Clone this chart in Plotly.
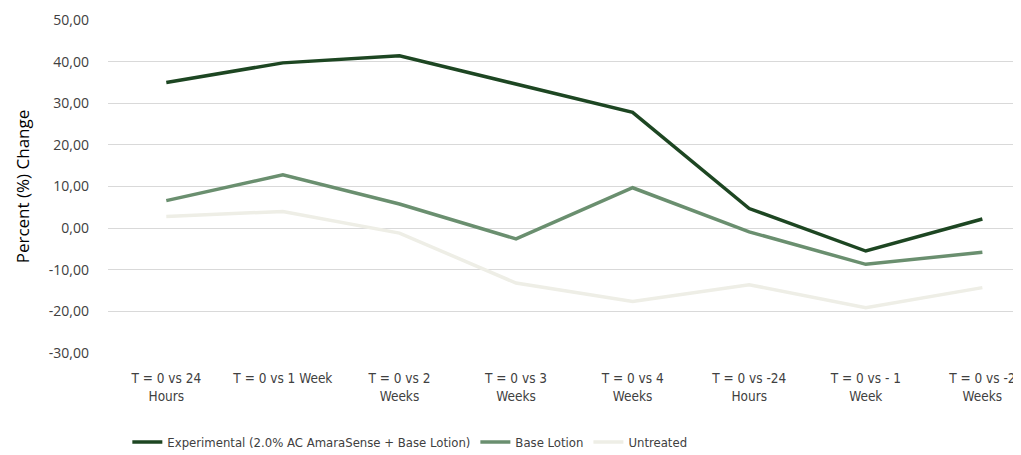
import plotly.graph_objects as go

categories = ["T = 0 vs 24<br>Hours", "T = 0 vs 1 Week", "T = 0 vs 2<br>Weeks", "T = 0 vs 3<br>Weeks",
              "T = 0 vs 4<br>Weeks", "T = 0 vs -24<br>Hours", "T = 0 vs - 1<br>Week", "T = 0 vs -2<br>Weeks"]
experimental = [35.0, 39.7, 41.4, 34.6, 27.8, 4.7, -5.5, 2.2]
base_lotion = [6.6, 12.8, 5.8, -2.6, 9.7, -0.9, -8.7, -5.8]
untreated = [2.8, 4.0, -1.2, -13.2, -17.6, -13.6, -19.1, -14.3]
y_ticks = [-30, -20, -10, 0, 10, 20, 30, 40, 50]
y_tick_labels = ["-30,00", "-20,00", "-10,00", "0,00", "10,00", "20,00", "30,00", "40,00", "50,00"]

series = [
    ("Experimental (2.0% AC AmaraSense + Base Lotion)", experimental, "#1D4622"),
    ("Base Lotion", base_lotion, "#6A8F6F"),
    ("Untreated", untreated, "#EEEEE6"),
]

narrow = "DejaVu Sans Condensed, Liberation Sans Narrow, Roboto, sans-serif"

fig = go.Figure()
x_idx = list(range(len(categories)))
for name, vals, col in series:
    fig.add_trace(go.Scatter(x=x_idx, y=vals, mode="lines", name=name,
                             line=dict(color=col, width=3.5)))

fig.update_layout(
    width=1021, height=455,
    margin=dict(l=100, r=0, t=12, b=110, autoexpand=False),
    paper_bgcolor="white", plot_bgcolor="white",
    font=dict(family=narrow, size=13, color="#404040"),
    showlegend=True,
    legend=dict(orientation="h", x=0.021, xanchor="left", yref="container", y=0.046, yanchor="middle",
                font=dict(family=narrow, size=13, color="#404040"), itemwidth=30,
                traceorder="normal", bgcolor="rgba(0,0,0,0)"),
    xaxis=dict(tickmode="array", tickvals=x_idx, ticktext=categories, range=[-0.5, 7.4],
               showgrid=False, zeroline=False, showline=False, automargin=False,
               ticks="outside", ticklen=13, tickcolor="rgba(0,0,0,0)",
               tickfont=dict(family=narrow, size=13.5, color="#404040")),
    yaxis=dict(tickmode="array", tickvals=y_ticks, ticktext=y_tick_labels, range=[-30, 50],
               showgrid=True, gridcolor="#D9D9D9", gridwidth=1, zeroline=False, automargin=False,
               ticks="", tickfont=dict(family="Open Sans, sans-serif", size=14, color="#404040"),
               ticklabelstandoff=18,
               title=dict(text="Percent (%) Change", standoff=14,
                          font=dict(family="Open Sans, sans-serif", size=17, color="#000000"))),
)

fig.write_html("out.html")
